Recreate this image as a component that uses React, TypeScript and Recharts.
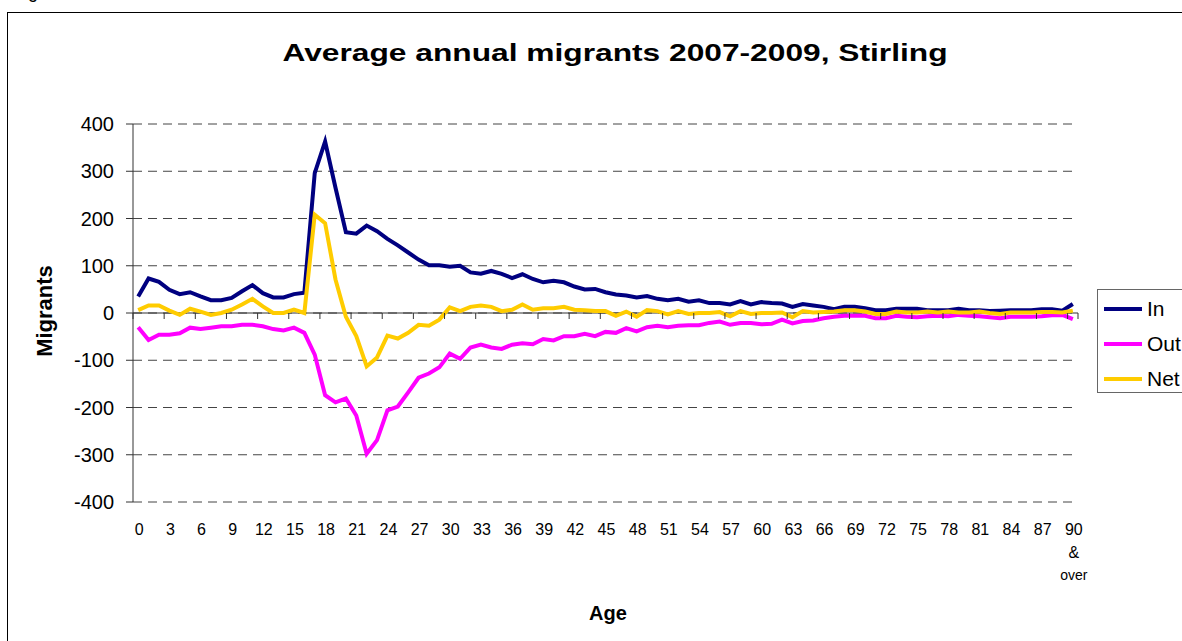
import React from "react";
import {
  LineChart,
  Line,
  XAxis,
  YAxis,
  CartesianGrid,
  ReferenceLine,
} from "recharts";

const ages = [
  0, 1, 2, 3, 4, 5, 6, 7, 8, 9, 10, 11, 12, 13, 14, 15, 16, 17, 18, 19, 20, 21,
  22, 23, 24, 25, 26, 27, 28, 29, 30, 31, 32, 33, 34, 35, 36, 37, 38, 39, 40,
  41, 42, 43, 44, 45, 46, 47, 48, 49, 50, 51, 52, 53, 54, 55, 56, 57, 58, 59,
  60, 61, 62, 63, 64, 65, 66, 67, 68, 69, 70, 71, 72, 73, 74, 75, 76, 77, 78,
  79, 80, 81, 82, 83, 84, 85, 86, 87, 88, 89, 90,
];

const inMigrants = [
  35, 73, 66, 49, 40, 44, 35, 27, 27, 32, 46, 59, 42, 33, 33, 40, 43, 296, 363,
  265, 171, 168, 185, 173, 157, 143, 128, 113, 101, 101, 98, 100, 86, 83, 89,
  83, 74, 82, 72, 65, 68, 65, 56, 50, 51, 44, 39, 37, 33, 36, 30, 27, 30, 24,
  27, 21, 21, 18, 25, 18, 23, 21, 20, 13, 19, 16, 13, 8, 13, 13, 10, 6, 6, 9, 9,
  9, 6, 6, 6, 9, 6, 6, 4, 5, 6, 6, 6, 8, 8, 5, 19,
];

const outMigrants = [
  -30, -57, -46, -46, -43, -31, -34, -31, -28, -28, -25, -25, -28, -34, -37,
  -31, -42, -88, -174, -189, -181, -217, -298, -269, -206, -198, -168, -137,
  -128, -115, -86, -97, -73, -67, -73, -76, -67, -64, -66, -55, -58, -49, -49,
  -44, -49, -40, -42, -32, -39, -30, -27, -30, -27, -26, -26, -21, -18, -25,
  -21, -21, -24, -23, -14, -22, -17, -16, -11, -8, -6, -6, -6, -11, -11, -6, -8,
  -9, -7, -6, -7, -4, -6, -7, -9, -11, -8, -8, -8, -7, -5, -4, -13,
];

const netMigrants = [
  6, 16, 16, 5, -4, 9, 3, -4, 0, 7, 18, 30, 14, 0, 0, 7, 0, 208, 190, 71, -8,
  -49, -113, -94, -48, -54, -42, -25, -27, -14, 12, 4, 13, 16, 13, 4, 7, 18, 7,
  10, 10, 13, 7, 6, 4, 4, -6, 3, -8, 6, 4, -3, 4, -2, 0, 0, 2, -7, 4, -2, 0, 0,
  1, -9, 4, 1, 2, 3, 6, 6, 3, -2, -2, 3, 1, 1, 3, 1, 3, 1, 1, 3, 0, -2, 1, 1, 1,
  2, 2, 1, 5,
];

const ageTicks = [
  0, 3, 6, 9, 12, 15, 18, 21, 24, 27, 30, 33, 36, 39, 42, 45, 48, 51, 54, 57,
  60, 63, 66, 69, 72, 75, 78, 81, 84, 87, 90,
];
const lastTickLines = ["90", "&", "over"];
const migrantTicks = [-400, -300, -200, -100, 0, 100, 200, 300, 400];

const series = [
  { key: "In", color: "#000080" },
  { key: "Out", color: "#FF00FF" },
  { key: "Net", color: "#FFCC00" },
];

const data = ages.map((age, i) => ({
  age,
  In: inMigrants[i],
  Out: outMigrants[i],
  Net: netMigrants[i],
}));

const FONT = "'Liberation Sans', Arial, sans-serif";

// plot box in page pixels
const PLOT_LEFT = 133;
const PLOT_RIGHT = 1078;
const PLOT_TOP = 124;
const PLOT_BOTTOM = 502;
const ZERO_Y = (PLOT_TOP + PLOT_BOTTOM) / 2;
const HALF_STEP = (PLOT_RIGHT - PLOT_LEFT) / ages.length / 2;

const AgeTick = (props: any) => {
  const { x, payload } = props;
  const lines = payload.value === 90 ? lastTickLines : [String(payload.value)];
  return (
    <g>
      <line
        x1={x - HALF_STEP}
        x2={x - HALF_STEP}
        y1={ZERO_Y}
        y2={ZERO_Y + 6}
        stroke="#333"
      />
      {payload.value === 90 && (
        <line
          x1={x + HALF_STEP}
          x2={x + HALF_STEP}
          y1={ZERO_Y}
          y2={ZERO_Y + 6}
          stroke="#333"
        />
      )}
      {lines.map((t, i) => (
        <text
          key={t}
          x={x + 1}
          y={535 + i * 22.5}
          textAnchor="middle"
          fontSize={i === 2 ? 14 : 16}
          fontFamily={FONT}
          fill="#000"
        >
          {t}
        </text>
      ))}
    </g>
  );
};

const LegendBox = () => (
  <div
    style={{
      position: "absolute",
      left: 1097,
      top: 289,
      width: 110,
      height: 104,
      border: "1px solid #666",
      boxSizing: "border-box",
      background: "#fff",
      fontFamily: FONT,
      fontSize: 21,
      paddingTop: 1,
    }}
  >
    {series.map((s) => (
      <div
        key={s.key}
        style={{ display: "flex", alignItems: "center", height: 35 }}
      >
        <div
          style={{
            width: 38,
            height: 4,
            background: s.color,
            marginLeft: 6,
            marginRight: 5,
          }}
        />
        <span>{s.key}</span>
      </div>
    ))}
  </div>
);

export default function App() {
  return (
    <div
      style={{
        position: "absolute",
        left: 0,
        top: 0,
        width: 1182,
        height: 641,
        overflow: "hidden",
        background: "#fff",
      }}
    >
      <svg
        width={1182}
        height={641}
        style={{ position: "absolute", left: 0, top: 0 }}
      >
        <text x={13} y={-2} fontSize={18} fontFamily={FONT} fill="#000">
          Figure 5
        </text>
        <rect
          x={7.5}
          y={12.5}
          width={1200}
          height={700}
          fill="none"
          stroke="#000"
        />
        <text
          x={615}
          y={61}
          textAnchor="middle"
          fontSize={24}
          fontWeight="bold"
          fontFamily={FONT}
          textLength={665}
          lengthAdjust="spacingAndGlyphs"
        >
          Average annual migrants 2007-2009, Stirling
        </text>
        <text
          transform="translate(52,311) rotate(-90)"
          textAnchor="middle"
          fontSize={22}
          fontWeight="bold"
          fontFamily={FONT}
        >
          Migrants
        </text>
        <text
          x={608}
          y={620}
          textAnchor="middle"
          fontSize={20}
          fontWeight="bold"
          fontFamily={FONT}
        >
          Age
        </text>
      </svg>
      <div style={{ position: "absolute", left: 0, top: 0 }}>
        <LineChart
          width={1182}
          height={641}
          data={data}
          margin={{
            top: PLOT_TOP,
            right: 1182 - PLOT_RIGHT,
            bottom: 641 - PLOT_BOTTOM - 40,
            left: PLOT_LEFT - 60,
          }}
        >
          <CartesianGrid
            vertical={false}
            stroke="#444"
            strokeDasharray="9 6"
          />
          <XAxis
            dataKey="age"
            type="number"
            domain={[-0.5, 90.5]}
            ticks={ageTicks}
            interval={0}
            height={40}
            axisLine={false}
            tickLine={false}
            tick={<AgeTick />}
          />
          <YAxis
            domain={[-400, 400]}
            ticks={migrantTicks}
            width={60}
            axisLine={{ stroke: "#333" }}
            tickLine={{ stroke: "#333" }}
            tickSize={7}
            tickMargin={12}
            tick={{ fontSize: 20, fill: "#000", fontFamily: FONT }}
          />
          <ReferenceLine y={0} stroke="#333" />
          {series.map((s) => (
            <Line
              key={s.key}
              type="linear"
              dataKey={s.key}
              stroke={s.color}
              strokeWidth={4}
              dot={false}
              isAnimationActive={false}
            />
          ))}
        </LineChart>
      </div>
      <LegendBox />
    </div>
  );
}
